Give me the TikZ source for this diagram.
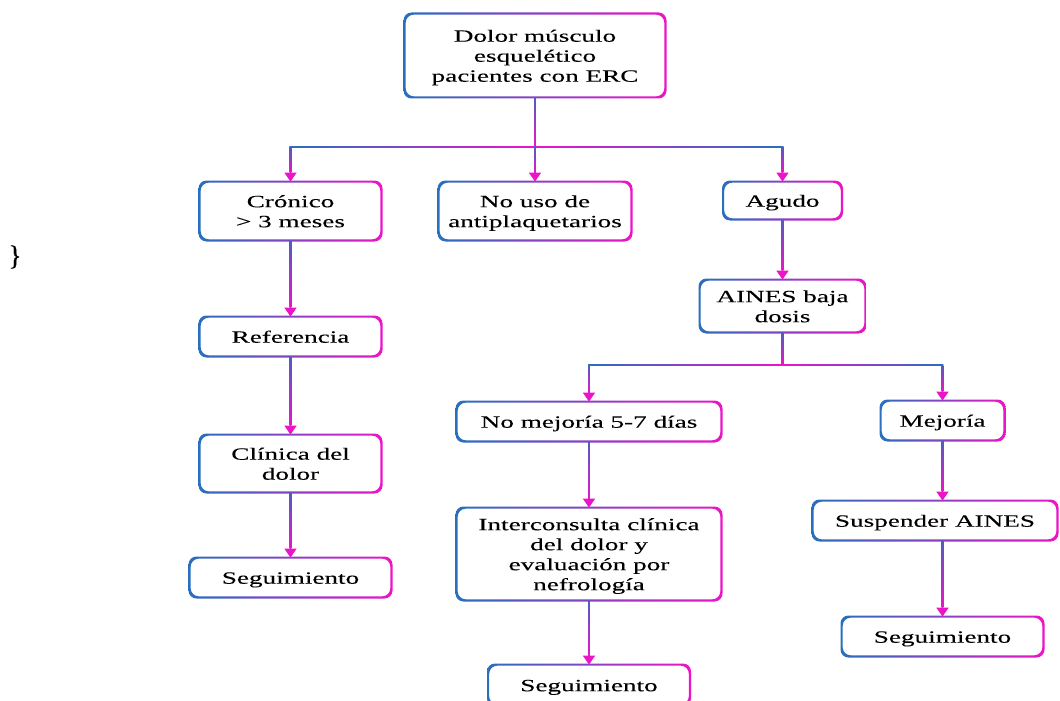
\documentclass[tikz,border=0pt]{standalone}
\usepackage{fontspec}
\setmainfont{Liberation Serif}[FakeBold=0.12]
\usetikzlibrary{arrows.meta,calc}
\definecolor{cblue}{RGB}{40,112,190}
\definecolor{cmag}{RGB}{236,20,200}
\definecolor{cmid}{RGB}{150,70,200}
% widened text block, one row per line, set a little low
\newcommand\stx[1]{\raisebox{-1.1pt}[\height][\depth]{\scalebox{1.58}[1]{\begin{tabular}{@{}c@{}}#1\end{tabular}}}}
% blue-to-magenta rounded frame around a node
\newcommand\gring[1]{%
  \shade[left color=cblue, right color=cmag, even odd rule, rounded corners=4pt]
    ($(#1.south west)+(-0.55pt,-0.55pt)$) rectangle ($(#1.north east)+(0.55pt,0.55pt)$)
    ($(#1.south west)+(0.55pt,0.55pt)$) rectangle ($(#1.north east)+(-0.55pt,-0.55pt)$);}
% vertical shaft shading, top point, bottom point, space left for the tip
\newcommand\vg[3]{%
  \shade[top color=cblue!80!cmag, bottom color=cmag]
    ($(#1)+(-0.4pt,0)$) rectangle ($(#2)+(0.4pt,#3)$);}
% horizontal bar shading: blue ends, magenta middle
\newcommand\hg[3]{%
  \shade[left color=cblue, right color=cmag] ($(#1)+(-0.4pt,-0.4pt)$) rectangle ($(#2)+(0,0.4pt)$);
  \shade[left color=cmag, right color=cblue] ($(#2)+(0,-0.4pt)$) rectangle ($(#3)+(0.4pt,0.4pt)$);}
\begin{document}
\begin{tikzpicture}[x=0.5pt,y=-0.5pt,
  box/.style 2 args={inner sep=0pt, minimum width=#1, minimum height=#2,
    align=center, font=\fontsize{8.6}{10}\selectfont},
  line/.style={line width=0.8pt, draw=cmid},
  conn/.style={line width=0.8pt, draw=cmag,
    -{Triangle[width=6pt,length=4.5pt]}}]
\useasboundingbox (0,0) rectangle (1060,701);
\fill[white] (0,0) rectangle (1060,701);
\clip (0,0) rectangle (1060,701);

% boxes
\node[box={130pt}{41.5pt}] (top) at (535,55.5) {\stx{Dolor músculo\\esquelético\\pacientes con ERC}};
\node[box={90.5pt}{29pt}] (cron) at (290.5,211) {\stx{Crónico\\> 3 meses}};
\node[box={96pt}{29pt}] (nouso) at (535,211) {\stx{No uso de\\antiplaquetarios}};
\node[box={59pt}{18.5pt}] (agudo) at (782.5,200.5) {\stx{Agudo}};
\node[box={90.5pt}{19.5pt}] (ref) at (290.5,336.5) {\stx{Referencia}};
\node[box={90.5pt}{28.5pt}] (clin) at (290.5,463.5) {\stx{Clínica del\\dolor}};
\node[box={100.5pt}{19.5pt}] (segl) at (290.5,577.5) {\stx{Seguimiento}};
\node[box={82.5pt}{26pt}] (aines) at (782.5,306) {\stx{AINES baja\\dosis}};
\node[box={132pt}{19.5pt}] (nomej) at (589,421.5) {\stx{No mejoría 5-7 días}};
\node[box={61.5pt}{19.5pt}] (mej) at (942.5,420.5) {\stx{Mejoría}};
\node[box={132pt}{46pt}] (inter) at (589,554) {\stx{Interconsulta clínica\\del dolor y\\evaluación por\\nefrología}};
\node[box={122pt}{19.5pt}] (susp) at (935,520.5) {\stx{Suspender AINES}};
\node[box={100.5pt}{19.5pt}] (segr) at (942.5,636.5) {\stx{Seguimiento}};
\node[box={100.5pt}{20pt}] (segb) at (589,685) {\stx{Seguimiento}};
\node[inner sep=0pt, font=\fontsize{14}{14}\selectfont] (brace) at (15,257) {\}};

\foreach \n in {top,cron,nouso,agudo,ref,clin,segl,aines,nomej,mej,inter,susp,segr,segb}
  {\gring{\n}}

% junction points
\coordinate (j1) at (535,147);
\coordinate (j1l) at (cron.north |- j1);
\coordinate (j1r) at (agudo.north |- j1);
\coordinate (j2) at (782.5,365);
\coordinate (j2l) at (nomej.north |- j2);
\coordinate (j2r) at (mej.north |- j2);
\coordinate (st) at (susp.north -| mej.south);
\coordinate (sb) at (susp.south -| mej.south);

% connectors
\draw[line] (top.south) -- (j1);
\draw[line] (j1l) -- (j1r);
\draw[conn] (j1l) -- (cron.north);
\draw[conn] (j1) -- (nouso.north);
\draw[conn] (j1r) -- (agudo.north);
\draw[conn] (cron.south) -- (ref.north);
\draw[conn] (ref.south) -- (clin.north);
\draw[conn] (clin.south) -- (segl.north);
\draw[conn] (agudo.south) -- (aines.north);
\draw[line] (aines.south) -- (j2);
\draw[line] (j2l) -- (j2r);
\draw[conn] (j2l) -- (nomej.north);
\draw[conn] (j2r) -- (mej.north);
\draw[conn] (nomej.south) -- (inter.north);
\draw[conn] (inter.south) -- (segb.north);
\draw[conn] (mej.south) -- (st);
\draw[conn] (sb) -- (segr.north);

% colour blends along the connectors
\vg{top.south}{j1}{0pt}
\hg{j1l}{j1}{j1r}
\vg{j1l}{cron.north}{4.5pt}
\vg{j1}{nouso.north}{4.5pt}
\vg{j1r}{agudo.north}{4.5pt}
\vg{cron.south}{ref.north}{4.5pt}
\vg{ref.south}{clin.north}{4.5pt}
\vg{clin.south}{segl.north}{4.5pt}
\vg{agudo.south}{aines.north}{4.5pt}
\vg{aines.south}{j2}{0pt}
\hg{j2l}{j2}{j2r}
\vg{j2l}{nomej.north}{4.5pt}
\vg{j2r}{mej.north}{4.5pt}
\vg{nomej.south}{inter.north}{4.5pt}
\vg{inter.south}{segb.north}{4.5pt}
\vg{mej.south}{st}{4.5pt}
\vg{sb}{segr.north}{4.5pt}
\end{tikzpicture}
\end{document}
